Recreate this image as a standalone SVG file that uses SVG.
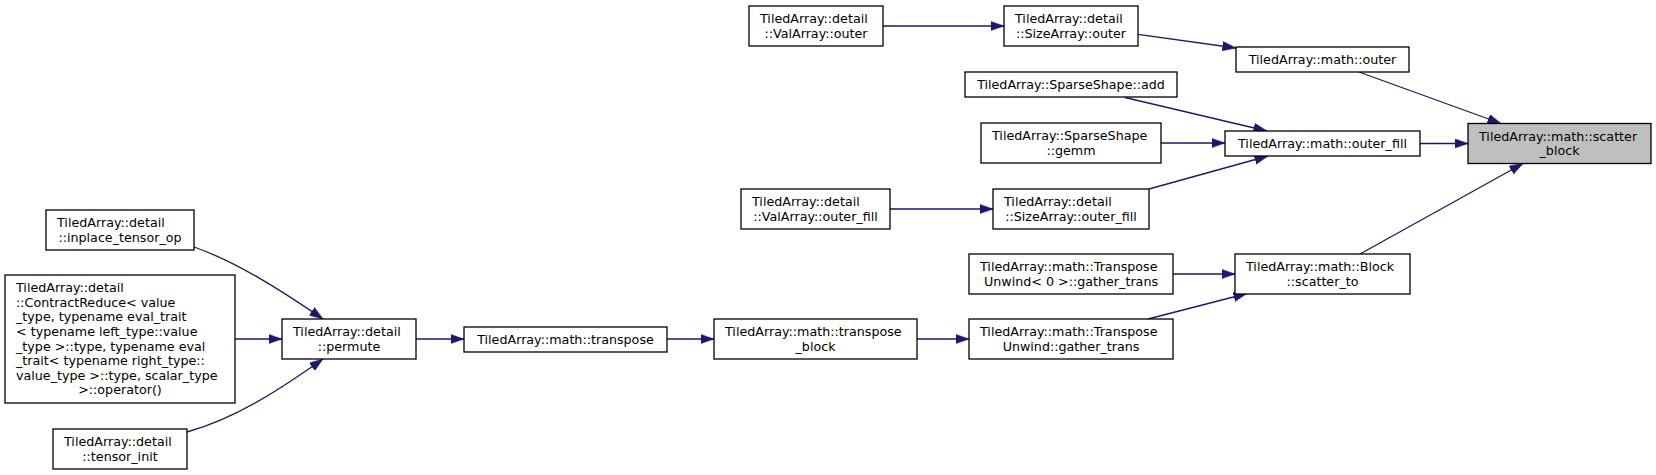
<svg xmlns="http://www.w3.org/2000/svg" width="1656" height="475" viewBox="0 0 1656 475">
<style>
.n rect{fill:#ffffff;stroke:#000000;stroke-width:1.3}
.root rect{fill:#bfbfbf}
text{font-family:"DejaVu Sans","Liberation Sans",sans-serif;font-size:12.7px;fill:#000000}
.s{text-anchor:start}
.m{text-anchor:middle}
.e path{fill:none;stroke:#191970;stroke-width:1.3;marker-end:url(#arr)}
</style>
<defs>
<marker id="arr" markerUnits="userSpaceOnUse" markerWidth="14" markerHeight="10" refX="13.5" refY="4.75" orient="auto">
<path d="M0,0 L13.5,4.75 L0,9.5 z" fill="#191970" stroke="#191970" stroke-width="0.5"/>
</marker>
</defs>
<rect width="1656" height="475" fill="#ffffff"/>
<g class="e" id="connectors">
<path d="M883,26 L1004,26"/>
<path d="M1138,34.3 L1236,48"/>
<path d="M1359,72 L1501,123.5"/>
<path d="M1125,97.5 L1267,131"/>
<path d="M1161,143 L1225,143"/>
<path d="M1149,189 L1268,156"/>
<path d="M1420,143.5 L1468,143.5"/>
<path d="M890,209 L993,209"/>
<path d="M1360,254 L1523,163.5"/>
<path d="M1173,274 L1235,274"/>
<path d="M1148,319 L1247,293.5"/>
<path d="M917,339 L969,339"/>
<path d="M667,339 L714,339"/>
<path d="M416,339 L464,339"/>
<path d="M194,247 C237,262 282,291 323,319"/>
<path d="M235,339 L282,339"/>
<path d="M187,432 C237,418 282,388 323,359"/>
</g>
<g class="n root" id="scatter_block">
<rect x="1468" y="123.5" width="183" height="40"/>
<text class="s" x="1479" y="140.5">TiledArray::math::scatter</text>
<text class="m" x="1559.5" y="155.1">_block</text>
</g>
<g class="n" id="math_outer">
<rect x="1236" y="47" width="173" height="25"/>
<text class="m" x="1322.5" y="63.8">TiledArray::math::outer</text>
</g>
<g class="n" id="math_outer_fill">
<rect x="1225" y="131" width="195" height="25"/>
<text class="m" x="1322.5" y="147.8">TiledArray::math::outer_fill</text>
</g>
<g class="n" id="block_scatter_to">
<rect x="1235" y="254" width="175" height="40"/>
<text class="s" x="1246" y="271">TiledArray::math::Block</text>
<text class="m" x="1322.5" y="285.6">::scatter_to</text>
</g>
<g class="n" id="sizearray_outer">
<rect x="1004" y="6" width="134" height="40"/>
<text class="s" x="1015" y="23">TiledArray::detail</text>
<text class="m" x="1071" y="37.6">::SizeArray::outer</text>
</g>
<g class="n" id="valarray_outer">
<rect x="749" y="6" width="134" height="40"/>
<text class="s" x="760" y="23">TiledArray::detail</text>
<text class="m" x="816" y="37.6">::ValArray::outer</text>
</g>
<g class="n" id="sparseshape_add">
<rect x="965" y="72" width="212" height="25"/>
<text class="m" x="1071" y="88.8">TiledArray::SparseShape::add</text>
</g>
<g class="n" id="sparseshape_gemm">
<rect x="981" y="123" width="180" height="40"/>
<text class="s" x="992" y="140">TiledArray::SparseShape</text>
<text class="m" x="1071" y="154.6">::gemm</text>
</g>
<g class="n" id="sizearray_outer_fill">
<rect x="993" y="189" width="156" height="40"/>
<text class="s" x="1004" y="206">TiledArray::detail</text>
<text class="m" x="1071" y="220.6">::SizeArray::outer_fill</text>
</g>
<g class="n" id="valarray_outer_fill">
<rect x="741" y="189" width="149" height="40"/>
<text class="s" x="752" y="206">TiledArray::detail</text>
<text class="m" x="815.5" y="220.6">::ValArray::outer_fill</text>
</g>
<g class="n" id="transposeunwind0_gather_trans">
<rect x="969" y="254" width="204" height="40"/>
<text class="s" x="980" y="271">TiledArray::math::Transpose</text>
<text class="m" x="1071" y="285.6">Unwind&lt; 0 &gt;::gather_trans</text>
</g>
<g class="n" id="transposeunwind_gather_trans">
<rect x="969" y="319" width="204" height="40"/>
<text class="s" x="980" y="336">TiledArray::math::Transpose</text>
<text class="m" x="1071" y="350.6">Unwind::gather_trans</text>
</g>
<g class="n" id="transpose_block">
<rect x="714" y="319" width="203" height="40"/>
<text class="s" x="725" y="336">TiledArray::math::transpose</text>
<text class="m" x="815.5" y="350.6">_block</text>
</g>
<g class="n" id="transpose">
<rect x="464" y="327" width="203" height="25"/>
<text class="m" x="565.5" y="343.8">TiledArray::math::transpose</text>
</g>
<g class="n" id="permute">
<rect x="282" y="319" width="134" height="40"/>
<text class="s" x="293" y="336">TiledArray::detail</text>
<text class="m" x="349" y="350.6">::permute</text>
</g>
<g class="n" id="inplace_tensor_op">
<rect x="46" y="210" width="148" height="40"/>
<text class="s" x="57" y="227">TiledArray::detail</text>
<text class="m" x="120" y="241.6">::inplace_tensor_op</text>
</g>
<g class="n" id="contractreduce_operator">
<rect x="5" y="275" width="230" height="128"/>
<text class="s" x="16" y="292.2">TiledArray::detail</text>
<text class="s" x="16" y="306.8">::ContractReduce&lt; value</text>
<text class="s" x="16" y="321.4">_type, typename eval_trait</text>
<text class="s" x="16" y="336">&lt; typename left_type::value</text>
<text class="s" x="16" y="350.6">_type &gt;::type, typename eval</text>
<text class="s" x="16" y="365.2">_trait&lt; typename right_type::</text>
<text class="s" x="16" y="379.8">value_type &gt;::type, scalar_type</text>
<text class="m" x="120" y="394.4">&gt;::operator()</text>
</g>
<g class="n" id="tensor_init">
<rect x="53" y="429" width="134" height="40"/>
<text class="s" x="64" y="446">TiledArray::detail</text>
<text class="m" x="120" y="460.6">::tensor_init</text>
</g>
</svg>
